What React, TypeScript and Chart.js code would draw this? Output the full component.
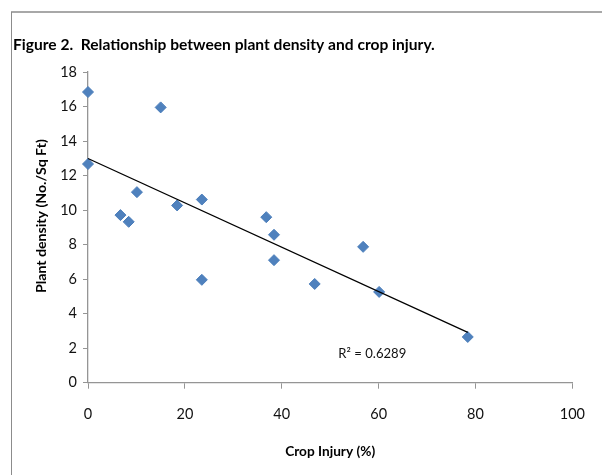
import React, { useEffect, useRef } from "react";
import { Chart, registerables } from "chart.js";

Chart.register(...registerables);

// ---- Data ----
const cropInjury = [0, 0, 6.7, 8.4, 10.1, 15.0, 18.4, 23.5, 23.5, 36.8, 38.4, 38.4, 46.8, 56.8, 60.1, 78.4];
const plantDensity = [16.84, 12.67, 9.71, 9.32, 11.04, 15.95, 10.27, 10.61, 5.96, 9.59, 8.57, 7.1, 5.72, 7.87, 5.26, 2.65];

const trendInjury = [0, 78.4];
const trendDensity = [12.99, 2.92];

const xTickRange = [0, 100, 20]; // min, max, step
const yTickRange = [0, 18, 2];

const titleText = "Figure 2.  Relationship between plant density and crop injury.";
const xTitleText = "Crop Injury (%)";
const yTitleText = "Plant density (No./Sq Ft)";
const r2Text = "R\u00B2 = 0.6289";
const r2Position = [58.7, 1.66]; // in data units

const FONT = "Lato, 'Open Sans', sans-serif";

function fitFont(ctx: CanvasRenderingContext2D, text: string, weight: string, targetW: number) {
  ctx.font = `${weight} 20px ${FONT}`;
  const w = ctx.measureText(text).width;
  const size = (20 * targetW) / w;
  ctx.font = `${weight} ${size}px ${FONT}`;
  return size;
}

const decorPlugin = {
  id: "decor",
  afterDraw(chart: any) {
    const ctx: CanvasRenderingContext2D = chart.ctx;
    ctx.save();
    // frame
    ctx.fillStyle = "#a8a8a8";
    ctx.fillRect(11, 11, 591, 2);
    ctx.fillStyle = "#8c8c8c";
    ctx.fillRect(11, 12, 1, 463);

    ctx.fillStyle = "#000";
    // title
    fitFont(ctx, titleText, "bold", 422);
    ctx.textAlign = "left";
    ctx.textBaseline = "alphabetic";
    ctx.fillText(titleText, 13, 50);

    // x axis title
    fitFont(ctx, xTitleText, "bold", 90);
    ctx.textAlign = "center";
    ctx.textBaseline = "middle";
    const area = chart.chartArea;
    ctx.fillText(xTitleText, (area.left + area.right) / 2, 452);

    // y axis title
    fitFont(ctx, yTitleText, "bold", 154);
    ctx.save();
    ctx.translate(41, 216);
    ctx.rotate(-Math.PI / 2);
    ctx.fillText(yTitleText, 0, 0);
    ctx.restore();

    // R^2 label
    const xs = chart.scales.x;
    const ys = chart.scales.y;
    fitFont(ctx, r2Text, "normal", 68);
    ctx.fillStyle = "#111";
    ctx.fillText(r2Text, xs.getPixelForValue(r2Position[0]), ys.getPixelForValue(r2Position[1]));
    ctx.restore();
  },
};

export default function App() {
  const ref = useRef<HTMLCanvasElement | null>(null);

  useEffect(() => {
    if (!ref.current) return;
    const points = cropInjury.map((x, i) => ({ x, y: plantDensity[i] }));
    const trend = trendInjury.map((x, i) => ({ x, y: trendDensity[i] }));
    const axisColor = "#959595";
    const tickFont = { family: FONT, size: 14.5 };

    const chart = new Chart(ref.current, {
      type: "scatter",
      data: {
        datasets: [
          {
            type: "line",
            label: "Trend",
            data: trend,
            borderColor: "#000",
            borderWidth: 1.3,
            pointRadius: 0,
            fill: false,
            tension: 0,
            order: 0,
            clip: false,
          } as any,
          {
            type: "scatter",
            label: "Plant density",
            data: points,
            pointStyle: "rectRot",
            pointRadius: 5.5,
            backgroundColor: "#4f81bd",
            borderColor: "#4a7dba",
            borderWidth: 1,
            order: 1,
            clip: false,
          } as any,
        ],
      },
      options: {
        animation: false,
        responsive: false,
        maintainAspectRatio: false,
        layout: { padding: { top: 72, right: 28, bottom: 0, left: 0 } },
        plugins: {
          legend: { display: false },
          tooltip: { enabled: false },
          title: { display: false },
        },
        scales: {
          x: {
            type: "linear",
            min: xTickRange[0],
            max: xTickRange[1],
            ticks: { stepSize: xTickRange[2], font: tickFont, color: "#111", padding: 17 },
            grid: { drawOnChartArea: false, drawTicks: true, tickLength: 6, color: axisColor },
            border: { display: true, color: axisColor, width: 1.3 },
            afterFit: (s: any) => {
              s.height = 92.3;
            },
          },
          y: {
            type: "linear",
            min: yTickRange[0],
            max: yTickRange[1],
            ticks: { stepSize: yTickRange[2], font: tickFont, color: "#111", padding: 6 },
            grid: { drawOnChartArea: false, drawTicks: true, tickLength: 5, color: axisColor },
            border: { display: true, color: axisColor, width: 1.3 },
            afterFit: (s: any) => {
              s.width = 88;
            },
          },
        },
      },
      plugins: [decorPlugin],
    });
    return () => chart.destroy();
  }, []);

  return (
    <div style={{ position: "fixed", left: 0, top: 0, width: 602, height: 475, background: "#fff" }}>
      <canvas ref={ref} width={602} height={475} style={{ width: 602, height: 475, display: "block" }} />
    </div>
  );
}
